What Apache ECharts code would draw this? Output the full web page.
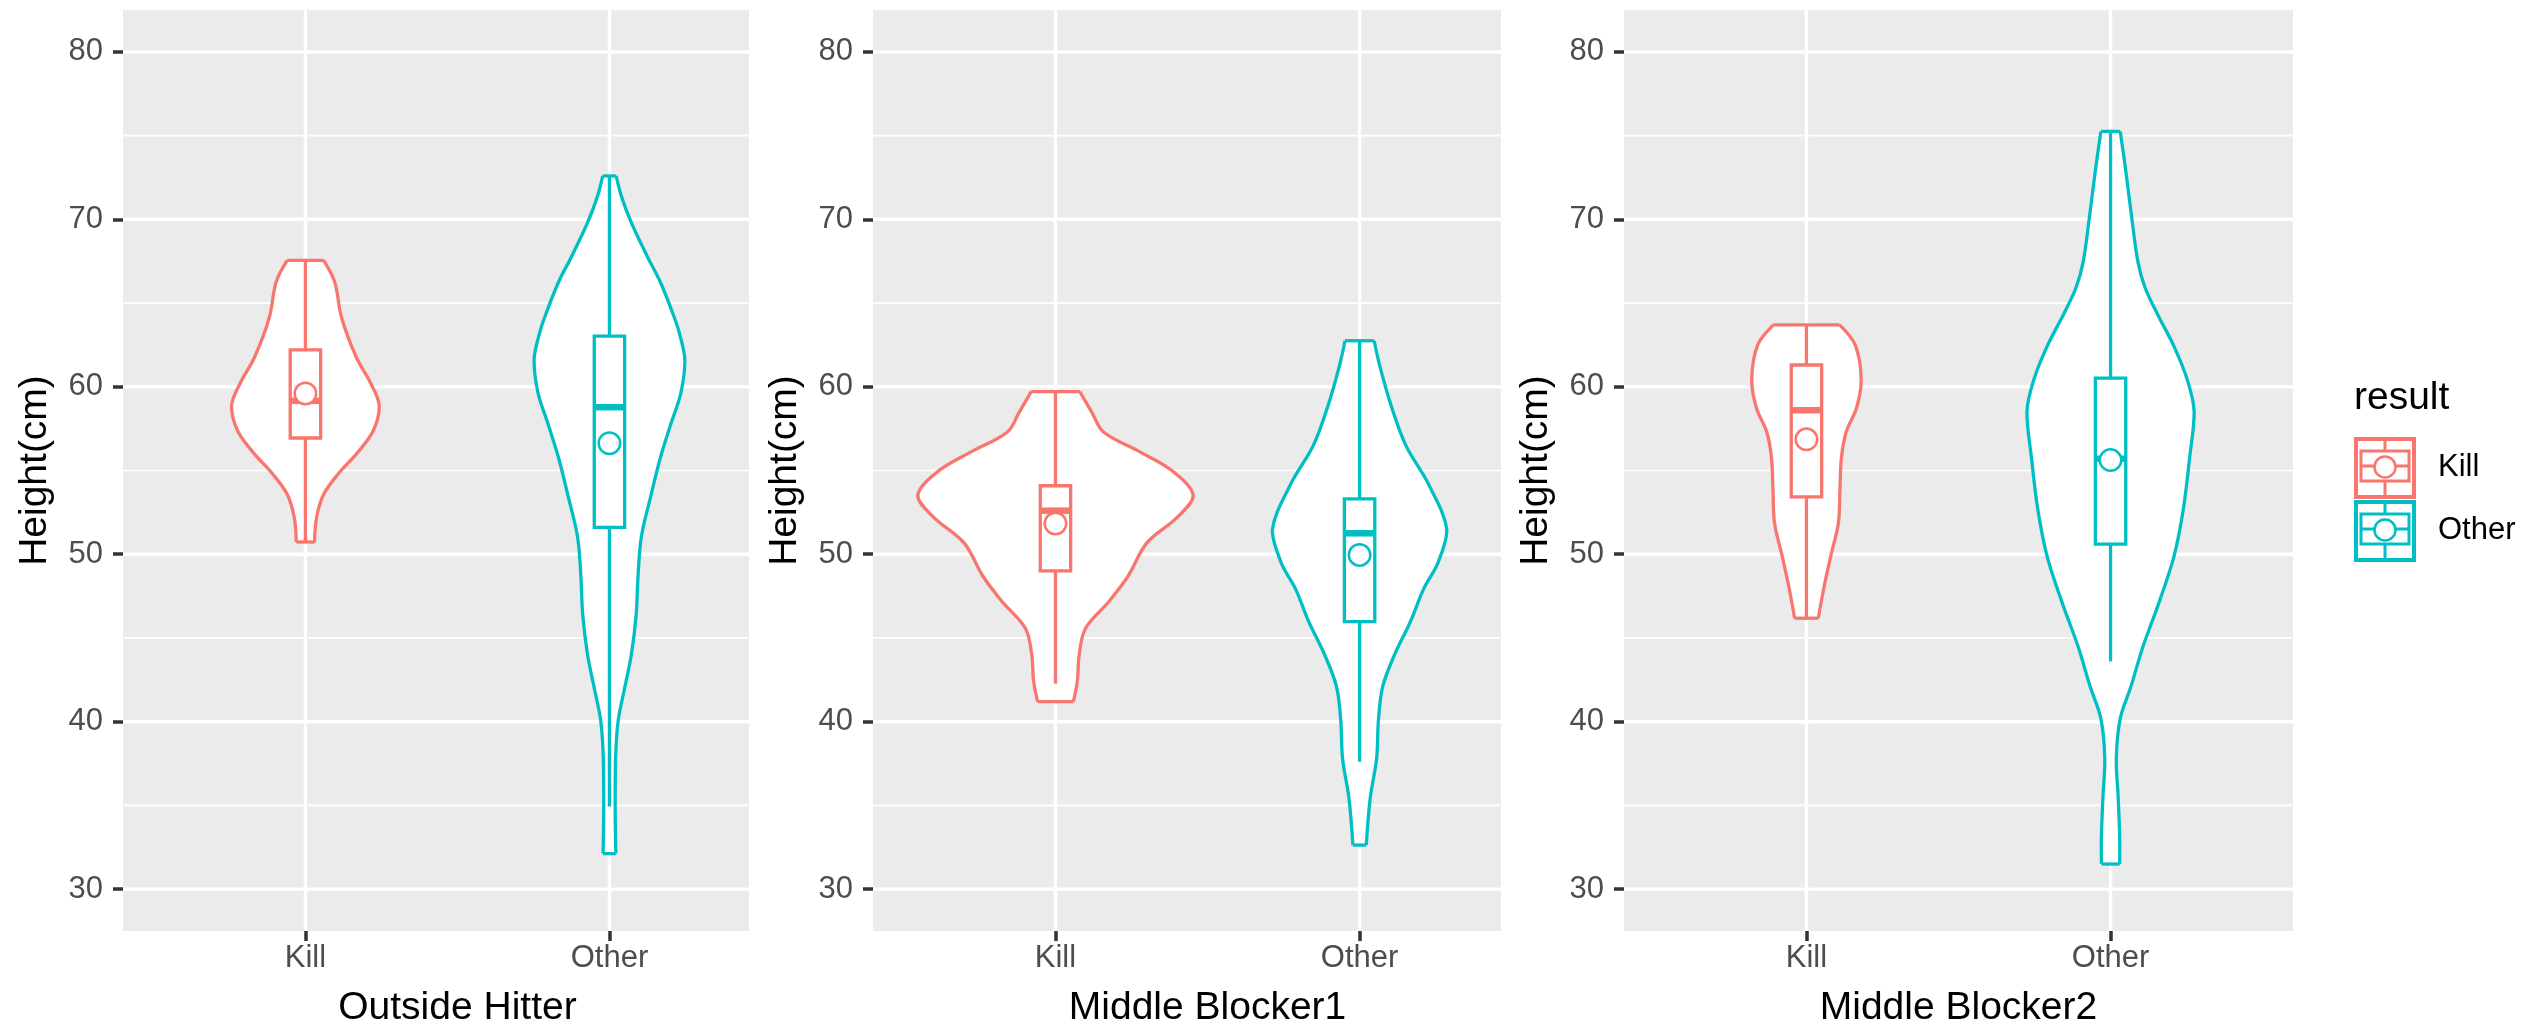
<!DOCTYPE html>
<html>
<head>
<meta charset="utf-8">
<script src="https://cdn.jsdelivr.net/npm/echarts@6/dist/echarts.min.js"></script>
<style>
html,body{margin:0;padding:0;background:#ffffff;}
#chart{width:2526px;height:1024px;}
</style>
</head>
<body>
<div id="chart"></div>
<script>
// ---------------- data ----------------
const panelTitles = ['Outside Hitter', 'Middle Blocker1', 'Middle Blocker2'];
const categories = ['Kill', 'Other'];
const yMajorTicks = [30, 40, 50, 60, 70, 80];
const yMinorTicks = [35, 45, 55, 65, 75];
const yAxisTitle = 'Height(cm)';
const legendTitle = 'result';

// violin outlines: heights (cm, bottom -> top) and half-widths (x units)
const ohKillY  = [50.73, 52.22, 53.58, 54.87, 56.04, 57.37, 58.85, 60.2, 61.78, 64.12, 66.27, 67.55];
const ohKillW  = [0.030, 0.037, 0.060, 0.111, 0.170, 0.223, 0.243, 0.215, 0.167, 0.119, 0.096, 0.060];
const ohOtherY = [32.12, 34.27, 36.0, 38.2, 40.1, 42.1, 44.0, 46.4, 48.7, 51.05, 53.4, 55.73, 57.67, 59.64, 61.58, 63.2, 64.3, 66.27, 67.8, 69.8, 71.34, 72.59];
const ohOtherW = [0.021, 0.019, 0.019, 0.021, 0.029, 0.051, 0.072, 0.088, 0.094, 0.105, 0.135, 0.167, 0.200, 0.235, 0.248, 0.230, 0.210, 0.167, 0.124, 0.072, 0.040, 0.022];

const mb1KillY  = [41.2, 42.45, 44.0, 45.58, 47.16, 48.7, 50.66, 52.2, 53.5, 54.95, 56.1, 57.3, 58.46, 59.71];
const mb1KillW  = [0.059, 0.072, 0.078, 0.099, 0.175, 0.239, 0.300, 0.400, 0.453, 0.386, 0.279, 0.158, 0.120, 0.080];
const mb1OtherY = [32.63, 35.44, 37.8, 40.1, 42.1, 44.0, 45.97, 47.9, 49.5, 51.44, 54.17, 56.5, 58.86, 61.2, 62.75];
const mb1OtherW = [0.022, 0.035, 0.056, 0.062, 0.076, 0.115, 0.167, 0.210, 0.258, 0.287, 0.227, 0.152, 0.104, 0.067, 0.048];

const mb2KillY  = [46.18, 47.97, 49.9, 51.86, 53.8, 55.76, 57.33, 58.7, 60.36, 62.47, 63.7];
const mb2KillW  = [0.039, 0.057, 0.080, 0.105, 0.110, 0.115, 0.131, 0.164, 0.180, 0.161, 0.109];
const mb2OtherY = [31.5, 33.16, 35.5, 37.85, 40.2, 42.1, 44.5, 47.2, 49.9, 52.65, 55.76, 58.5, 60.44, 62.4, 64.35, 65.9, 67.46, 70.2, 72.9, 75.25];
const mb2OtherW = [0.030, 0.030, 0.025, 0.019, 0.032, 0.067, 0.107, 0.161, 0.209, 0.239, 0.260, 0.275, 0.252, 0.209, 0.154, 0.114, 0.090, 0.069, 0.050, 0.032];

// box stats: [lower whisker, Q1, median, Q3, upper whisker]
const ohKillBox   = [50.73, 56.94, 59.16, 62.2, 67.55];
const ohOtherBox  = [34.93, 51.6, 58.78, 63.03, 72.59];
const mb1KillBox  = [42.27, 49.0, 52.6, 54.09, 59.71];
const mb1OtherBox = [37.6, 45.97, 51.25, 53.3, 62.75];
const mb2KillBox  = [46.18, 53.43, 58.6, 61.3, 63.7];
const mb2OtherBox = [43.6, 50.6, 55.7, 60.52, 75.25];

// means [Kill, Other]
const ohMeans  = [59.6, 56.63];
const mb1Means = [51.83, 49.96];
const mb2Means = [56.86, 55.62];

// ---------------- styling / layout ----------------
const colors = ['#F8766D', '#00BFC4'];
const FONT = 'Liberation Sans, Arial, Helvetica, sans-serif';
const panelBg = '#EBEBEB';
const grids = [
  {left: 123, top: 10, width: 626, height: 921},
  {left: 873, top: 10, width: 628, height: 921},
  {left: 1624, top: 10, width: 669, height: 921}
];
const xMaxes = [2.459, 2.465, 2.6];
const boxWidth = 0.1;
const violinLine = 3.3;

const violinSets = [
  [[ohKillY, ohKillW], [ohOtherY, ohOtherW]],
  [[mb1KillY, mb1KillW], [mb1OtherY, mb1OtherW]],
  [[mb2KillY, mb2KillW], [mb2OtherY, mb2OtherW]]
];
const boxSets = [[ohKillBox, ohOtherBox], [mb1KillBox, mb1OtherBox], [mb2KillBox, mb2OtherBox]];
const meanSets = [ohMeans, mb1Means, mb2Means];

function bbox(pts) {
  let x0 = Infinity, y0 = Infinity, x1 = -Infinity, y1 = -Infinity;
  pts.forEach(p => { x0 = Math.min(x0, p[0]); y0 = Math.min(y0, p[1]); x1 = Math.max(x1, p[0]); y1 = Math.max(y1, p[1]); });
  return [[x0, y0], [x1, y1]];
}

function violinRenderer(p) {
  return function (params, api) {
    const c = params.dataIndex;
    const ys = violinSets[p][c][0], ws = violinSets[p][c][1];
    const cx = api.value(0);
    const L = ys.map((y, i) => api.coord([cx - ws[i], y]));
    const R = ys.map((y, i) => api.coord([cx + ws[i], y]));
    const n = ys.length;
    const all = L.concat(R.slice().reverse());
    const bb = bbox(all);
    const st = {stroke: colors[c], lineWidth: violinLine, fill: null, lineJoin: 'round'};
    return {
      type: 'group',
      children: [
        {type: 'polygon', shape: {points: all, smooth: 0.35, smoothConstraint: bb}, style: {fill: '#ffffff', stroke: null}},
        {type: 'polyline', shape: {points: L, smooth: 0.35, smoothConstraint: bb}, style: st},
        {type: 'polyline', shape: {points: R, smooth: 0.35, smoothConstraint: bb}, style: st},
        {type: 'line', shape: {x1: L[0][0], y1: L[0][1], x2: R[0][0], y2: R[0][1]}, style: st},
        {type: 'line', shape: {x1: L[n - 1][0], y1: L[n - 1][1], x2: R[n - 1][0], y2: R[n - 1][1]}, style: st}
      ]
    };
  };
}

function boxRenderer(p) {
  return function (params, api) {
    const c = params.dataIndex;
    const b = boxSets[p][c];
    const cx = api.value(0);
    const lo = api.coord([cx, b[0]]);
    const q1 = api.coord([cx - boxWidth / 2, b[1]]);
    const md = api.coord([cx - boxWidth / 2, b[2]]);
    const mdR = api.coord([cx + boxWidth / 2, b[2]]);
    const q3 = api.coord([cx + boxWidth / 2, b[3]]);
    const hi = api.coord([cx, b[4]]);
    const col = colors[c];
    const ln = {stroke: col, lineWidth: 3.3};
    return {
      type: 'group',
      children: [
        {type: 'line', shape: {x1: lo[0], y1: lo[1], x2: lo[0], y2: q1[1]}, style: ln},
        {type: 'line', shape: {x1: hi[0], y1: q3[1], x2: hi[0], y2: hi[1]}, style: ln},
        {type: 'rect', shape: {x: q1[0], y: q3[1], width: q3[0] - q1[0], height: q1[1] - q3[1]}, style: {fill: '#ffffff', stroke: col, lineWidth: 3.3}},
        {type: 'line', shape: {x1: md[0], y1: md[1], x2: mdR[0], y2: md[1]}, style: {stroke: col, lineWidth: 6.5}}
      ]
    };
  };
}

function gridRenderer(params, api) {
  const kind = api.value(0), v = api.value(1);
  const cs = params.coordSys;
  if (kind === 2) {
    const x = api.coord([v, 50])[0];
    return {type: 'line', shape: {x1: x, y1: cs.y, x2: x, y2: cs.y + cs.height}, style: {stroke: '#ffffff', lineWidth: 3.4}};
  }
  const y = api.coord([1, v])[1];
  return {type: 'line', shape: {x1: cs.x, y1: y, x2: cs.x + cs.width, y2: y}, style: {stroke: '#ffffff', lineWidth: kind === 0 ? 3.4 : 1.7}};
}

const series = [];
const catPositions = categories.map((_, i) => i + 1);
panelTitles.forEach((_, p) => {
  const gridData = yMajorTicks.map(v => [0, v]).concat(yMinorTicks.map(v => [1, v])).concat(catPositions.map(v => [2, v]));
  series.push({type: 'custom', xAxisIndex: p, yAxisIndex: p, z: 1, silent: true, clip: false,
    data: gridData, renderItem: gridRenderer});
  series.push({type: 'custom', xAxisIndex: p, yAxisIndex: p, z: 2, silent: true,
    data: catPositions.map(v => [v, 50]), renderItem: violinRenderer(p)});
  series.push({type: 'custom', xAxisIndex: p, yAxisIndex: p, z: 3, silent: true,
    data: catPositions.map(v => [v, 50]), renderItem: boxRenderer(p)});
  series.push({type: 'scatter', xAxisIndex: p, yAxisIndex: p, z: 4, silent: true,
    symbol: 'circle', symbolSize: 21.5,
    itemStyle: {opacity: 1},
    data: meanSets[p].map((m, c) => ({value: [c + 1, m], itemStyle: {color: '#ffffff', borderColor: colors[c], borderWidth: 2.5, opacity: 1}})),
    emphasis: {disabled: true}});
});

const graphics = [];
grids.forEach((g, p) => {
  const fullW = (2.6 - 0.4) * g.width / (xMaxes[p] - 0.4);
  graphics.push({type: 'text', x: g.left + fullW / 2, y: 1008, silent: true,
    style: {text: panelTitles[p], font: '39px ' + FONT, fill: '#000000', align: 'center', verticalAlign: 'middle'}});
  graphics.push({type: 'text', x: g.left - 88, y: g.top + g.height / 2, rotation: Math.PI / 2, silent: true,
    style: {text: yAxisTitle, font: '39px ' + FONT, fill: '#000000', align: 'center', verticalAlign: 'middle'}});
});
// legend
graphics.push({type: 'text', x: 2354, y: 398, silent: true,
  style: {text: legendTitle, font: '39px ' + FONT, fill: '#000000', align: 'left', verticalAlign: 'middle'}});
const keyTops = [437, 500];
categories.forEach((cat, c) => {
  const top = keyTops[c];
  const col = colors[c];
  const cxk = 2385, cyk = top + 29;
  graphics.push({type: 'rect', silent: true, shape: {x: 2356, y: top + 2, width: 58, height: 58}, style: {fill: '#ffffff', stroke: col, lineWidth: 4}});
  graphics.push({type: 'line', silent: true, shape: {x1: cxk, y1: top + 3, x2: cxk, y2: top + 59}, style: {stroke: col, lineWidth: 3}});
  graphics.push({type: 'rect', silent: true, shape: {x: 2361, y: cyk - 15, width: 48, height: 30}, style: {fill: '#ffffff', stroke: col, lineWidth: 3}});
  graphics.push({type: 'line', silent: true, shape: {x1: 2361, y1: cyk, x2: 2409, y2: cyk}, style: {stroke: col, lineWidth: 3}});
  graphics.push({type: 'circle', silent: true, shape: {cx: cxk, cy: cyk + 1, r: 10.5}, style: {fill: '#ffffff', stroke: col, lineWidth: 2.5}});
  graphics.push({type: 'text', silent: true, x: 2438, y: cyk + 1,
    style: {text: cat, font: '31px ' + FONT, fill: '#000000', align: 'left', verticalAlign: 'middle'}});
});

const option = {
  animation: false,
  backgroundColor: '#ffffff',
  grid: grids.map(g => Object.assign({show: true, backgroundColor: panelBg, borderWidth: 0, containLabel: false}, g)),
  xAxis: grids.map((g, p) => ({
    type: 'value', gridIndex: p, min: 0.4, max: xMaxes[p],
    axisLine: {show: false},
    axisTick: {show: true, customValues: catPositions, length: 10, lineStyle: {color: '#333333', width: 3.5}},
    axisLabel: {show: true, customValues: catPositions, margin: 12, fontSize: 31, fontFamily: FONT, color: '#4D4D4D',
      formatter: v => categories[Math.round(v) - 1] || ''},
    splitLine: {show: false}
  })),
  yAxis: grids.map((g, p) => ({
    type: 'value', gridIndex: p, min: 27.5, max: 82.5,
    axisLine: {show: false},
    axisTick: {show: true, customValues: yMajorTicks, length: 10, lineStyle: {color: '#333333', width: 3.5}},
    axisLabel: {show: true, customValues: yMajorTicks, margin: 20, fontSize: 31, fontFamily: FONT, color: '#4D4D4D',
      formatter: v => (v % 10 === 0 ? String(v) : '')},
    splitLine: {show: false}
  })),
  graphic: graphics,
  series: series
};

const chart = echarts.init(document.getElementById('chart'), null, {renderer: 'canvas'});
chart.setOption(option);
</script>
</body>
</html>
